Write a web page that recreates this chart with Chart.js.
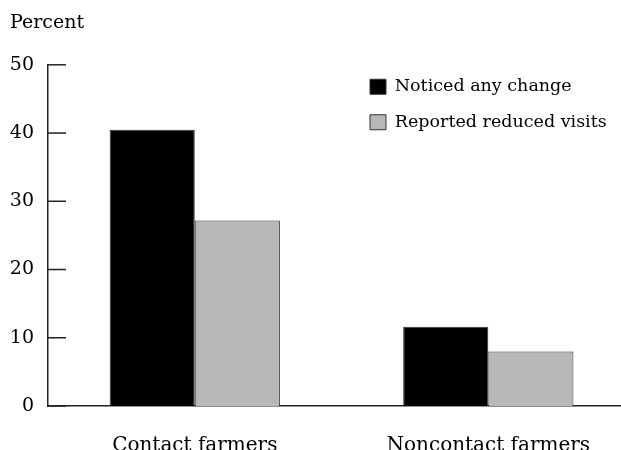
<!DOCTYPE html>
<html>
<head>
<meta charset="utf-8">
<script src="https://cdn.jsdelivr.net/npm/chart.js@4/dist/chart.umd.min.js"></script>
<style>
  body { margin: 0; background: #fff; }
  #wrap { width: 621px; height: 450px; }
</style>
</head>
<body>
<div id="wrap"><canvas id="chart" width="621" height="450"></canvas></div>
<script>
// chart values
var categories = ["Contact farmers", "Noncontact farmers"];
var noticedChange = [40.5, 11.6];
var reducedVisits = [27.2, 8.0];
var yTicks = [0, 10, 20, 30, 40, 50];

Chart.defaults.font.family = "'DejaVu Serif', serif";
Chart.defaults.font.size = 18;
Chart.defaults.color = "#000";

// categories sit at 0.5, 1.5 on a linear axis so the plot can run off to the right edge
function points(values) {
    return values.map(function (v, i) { return { x: i + 0.5, y: v }; });
}

var inwardTicks = {
    id: "inwardTicks",
    afterLayout: function (chart) {
        // legend sits inside the plot, top right
        var lg = chart.legend;
        lg.left = 352;
        lg.top = 60;
        lg.right = lg.left + lg.width;
        lg.bottom = lg.top + lg.height;
    },
    afterDraw: function (chart) {
        var ctx = chart.ctx, y = chart.scales.y, left = chart.chartArea.left;
        ctx.save();
        ctx.strokeStyle = "#222";
        ctx.lineWidth = 1.5;
        y.ticks.forEach(function (t) {
            var py = y.getPixelForValue(t.value);
            ctx.beginPath();
            ctx.moveTo(left, py);
            ctx.lineTo(left + 18, py);
            ctx.stroke();
        });
        ctx.restore();
    }
};

new Chart(document.getElementById("chart").getContext("2d"), {
    type: "bar",
    data: {
        datasets: [
            {
                label: "Noticed any change",
                data: points(noticedChange),
                backgroundColor: "#000",
                borderColor: "#333",
                borderWidth: 1
            },
            {
                label: "Reported reduced visits",
                data: points(reducedVisits),
                backgroundColor: "#b8b8b8",
                borderColor: "#333",
                borderWidth: 1
            }
        ]
    },
    options: {
        responsive: false,
        animation: false,
        events: [],
        layout: { padding: { left: 10, top: 0, right: 0, bottom: 0 } },
        datasets: { bar: { barPercentage: 1, categoryPercentage: 0.58 } },
        plugins: {
            tooltip: { enabled: false },
            title: {
                display: true,
                text: "Percent",
                align: "start",
                font: { size: 19, weight: "normal" },
                padding: { top: 12, bottom: 30 }
            },
            legend: {
                position: "chartArea",
                align: "start",
                labels: { boxWidth: 16, boxHeight: 15, padding: 18, font: { size: 17.5 } }
            }
        },
        scales: {
            x: {
                type: "linear",
                min: 0,
                max: 1.952,
                offset: false,
                grid: { display: false, drawTicks: false },
                border: { display: true, color: "#222", width: 1.5 },
                afterBuildTicks: function (scale) {
                    scale.ticks = categories.map(function (c, i) { return { value: i + 0.5 }; });
                },
                afterFit: function (scale) { scale.height = 44; },
                ticks: {
                    padding: 28,
                    maxRotation: 0,
                    autoSkip: false,
                    font: { size: 20 },
                    callback: function (v, i) { return categories[i]; }
                }
            },
            y: {
                min: 0,
                max: 50,
                grid: { display: false, drawTicks: false },
                border: { display: true, color: "#222", width: 1.5 },
                afterBuildTicks: function (scale) {
                    scale.ticks = yTicks.map(function (v) { return { value: v }; });
                },
                afterFit: function (scale) { scale.width = 38; },
                ticks: { padding: 14, font: { size: 19 } }
            }
        }
    },
    plugins: [inwardTicks]
});
</script>
</body>
</html>
